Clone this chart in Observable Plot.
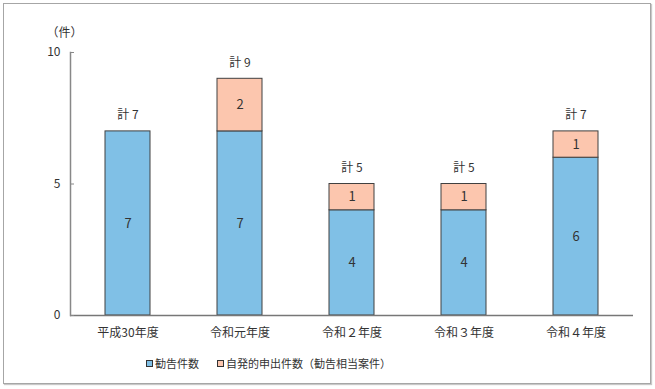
<!DOCTYPE html>
<html>
<head>
<meta charset="utf-8">
<script src="https://cdn.jsdelivr.net/npm/d3@7"></script>
<script src="https://cdn.jsdelivr.net/npm/@observablehq/plot@0.6"></script>
<style>
  html, body { margin: 0; padding: 0; background: #fff; }
  #wrap { position: relative; width: 655px; height: 389px; font-family: "Noto Sans CJK JP", "Noto Sans", sans-serif; }
  #border { position: absolute; left: 3px; top: 3px; width: 646px; height: 379px; border: 1px solid #a6a6a6; box-shadow: 1px 1px 1px #c8c8c8; }
  #chart { position: absolute; left: 0; top: 0; }
  #legend { position: absolute; left: 146px; top: 354px; font-size: 11px; color: #333; white-space: nowrap; line-height: 18px; }
  .sw { display: inline-block; width: 5px; height: 5px; border: 1px solid #333; margin-right: 2px; vertical-align: 1px; }
</style>
</head>
<body>
<div id="wrap">
  <div id="border"></div>
  <div id="chart"></div>
  <div id="legend"></div>
</div>
<script>
const years = ["平成30年度", "令和元年度", "令和２年度", "令和３年度", "令和４年度"];
const seriesNames = ["勧告件数", "自発的申出件数（勧告相当案件）"];
const kankoku = [7, 7, 4, 4, 6];
const jihatsu = [0, 2, 1, 1, 1];
const totals = [7, 9, 5, 5, 7];
const yTicks = [0, 5, 10];
const unitLabel = "（件）";
const colors = ["#80c0e6", "#fcc6ae"];

const rows = [];
years.forEach((y, i) => {
  rows.push({year: y, series: seriesNames[0], value: kankoku[i]});
  rows.push({year: y, series: seriesNames[1], value: jihatsu[i]});
});
const nonzero = rows.filter(d => d.value > 0);
const totalRows = years.map((y, i) => ({year: y, total: totals[i]}));

const chart = Plot.plot({
  width: 655,
  height: 345,
  marginLeft: 70,
  marginRight: 22,
  marginTop: 52,
  marginBottom: 30,
  style: {fontFamily: "'Noto Sans CJK JP', 'Noto Sans', sans-serif", fontSize: "12px", color: "#333", background: "transparent"},
  x: {domain: years, paddingInner: 0.6, paddingOuter: 0.3, label: null},
  y: {domain: [0, 10], label: null},
  color: {domain: seriesNames, range: colors},
  marks: [
    Plot.barY(nonzero, Plot.stackY({x: "year", y: "value", fill: "series", z: "series", stroke: "#404040", strokeWidth: 1, order: seriesNames})),
    Plot.text(nonzero, Plot.stackY({x: "year", y: "value", z: "series", text: d => String(d.value), order: seriesNames, fill: "#333", fontSize: 13})),
    Plot.text(totalRows, {x: "year", y: "total", text: d => "計 " + d.total, dy: -16, fill: "#333", fontSize: 12}),
    Plot.ruleY([0], {stroke: "#777", strokeWidth: 1.5}),
    Plot.axisY({ticks: yTicks, tickSize: -4, tickPadding: 14, stroke: "#888", fontSize: 12, label: null}),
    Plot.axisX({tickSize: 0, tickPadding: 13, fontSize: 12, label: null}),
    Plot.frame({anchor: "left", stroke: "#888", strokeWidth: 1.5}),
    Plot.text([unitLabel], {frameAnchor: "top-left", textAnchor: "middle", dx: -6, dy: -24, fontSize: 12, fill: "#333"})
  ]
});
document.getElementById("chart").appendChild(chart);

const legend = document.getElementById("legend");
seriesNames.forEach((name, i) => {
  const item = document.createElement("span");
  item.style.marginRight = i === 0 ? "18px" : "0";
  const sw = document.createElement("span");
  sw.className = "sw";
  sw.style.background = colors[i];
  item.appendChild(sw);
  item.appendChild(document.createTextNode(name));
  legend.appendChild(item);
});
</script>
</body>
</html>
